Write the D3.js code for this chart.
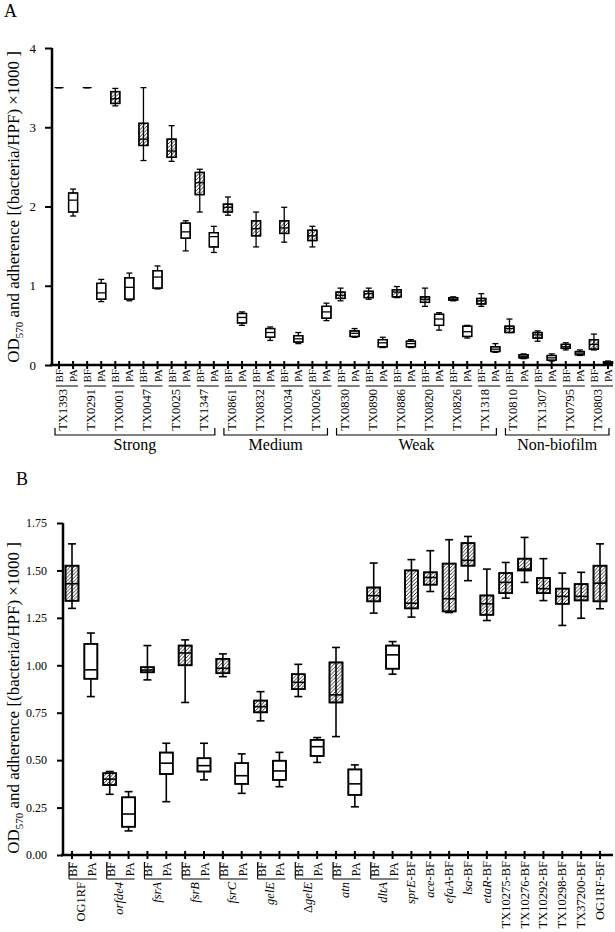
<!DOCTYPE html>
<html lang="en">

<head>
    <meta charset="UTF-8">
    <title>Biofilm and adherence</title>
    <script src="https://cdn.jsdelivr.net/npm/d3@7"></script>
    <style>
        body { margin: 0; background: #fff; }
        text { font-family: "Liberation Serif", "Times New Roman", serif; fill: #000; }
    </style>
</head>

<body>
    <svg></svg>
</body>
<script>
    // ---------- panel A data ----------
    const isolatesA = ['TX1393', 'TX0291', 'TX0001', 'TX0047', 'TX0025', 'TX1347',
        'TX0861', 'TX0832', 'TX0034', 'TX0026',
        'TX0830', 'TX0890', 'TX0886', 'TX0820', 'TX0826', 'TX1318',
        'TX0810', 'TX1307', 'TX0795', 'TX0803'];
    const groupNamesA = ['Strong', 'Medium', 'Weak', 'Non-biofilm'];
    const groupSizesA = [6, 4, 6, 4];
    // [min, q1, median, q3, max]
    const bfA = [
        [3.5, 3.5, 3.5, 3.5, 3.5], [3.5, 3.5, 3.5, 3.5, 3.5], [3.27, 3.30, 3.36, 3.45, 3.49],
        [2.58, 2.77, 2.85, 3.05, 3.5], [2.57, 2.62, 2.70, 2.85, 3.02], [1.93, 2.15, 2.30, 2.43, 2.47],
        [1.89, 1.93, 1.99, 2.03, 2.12], [1.49, 1.63, 1.72, 1.82, 1.93], [1.55, 1.66, 1.73, 1.82, 1.99],
        [1.49, 1.57, 1.63, 1.70, 1.75],
        [0.81, 0.84, 0.88, 0.92, 0.97], [0.83, 0.85, 0.90, 0.93, 0.97], [0.85, 0.86, 0.92, 0.95, 0.99],
        [0.74, 0.79, 0.83, 0.86, 0.97], [0.81, 0.82, 0.83, 0.85, 0.86], [0.74, 0.77, 0.81, 0.84, 0.90],
        [0.41, 0.41, 0.46, 0.49, 0.58], [0.30, 0.34, 0.38, 0.41, 0.43], [0.19, 0.21, 0.23, 0.26, 0.28],
        [0.19, 0.20, 0.26, 0.32, 0.39]
    ];
    const paA = [
        [1.88, 1.93, 2.08, 2.17, 2.22], [0.80, 0.83, 0.91, 1.03, 1.08], [0.81, 0.83, 0.98, 1.10, 1.16],
        [0.96, 0.97, 1.11, 1.19, 1.25], [1.44, 1.60, 1.68, 1.79, 1.82], [1.42, 1.49, 1.62, 1.67, 1.75],
        [0.50, 0.53, 0.60, 0.65, 0.67], [0.31, 0.35, 0.41, 0.46, 0.48], [0.27, 0.29, 0.33, 0.37, 0.41],
        [0.56, 0.59, 0.67, 0.74, 0.78],
        [0.35, 0.36, 0.40, 0.43, 0.46], [0.22, 0.23, 0.28, 0.32, 0.35], [0.22, 0.23, 0.27, 0.30, 0.32],
        [0.44, 0.50, 0.58, 0.64, 0.66], [0.34, 0.36, 0.42, 0.49, 0.50], [0.16, 0.17, 0.20, 0.23, 0.27],
        [0.08, 0.09, 0.11, 0.13, 0.14], [0.05, 0.06, 0.09, 0.12, 0.14], [0.12, 0.13, 0.15, 0.17, 0.19],
        [0.02, 0.02, 0.03, 0.04, 0.05]
    ];
    const ticksA = [0, 1, 2, 3, 4];

    // ---------- panel B data ----------
    // pairs (BF + PA), name parts: [plain prefix, italic part]
    const pairsB = [['OG1RF', ''], ['', 'orfde4'], ['', 'fsrA'], ['', 'fsrB'], ['', 'fsrC'],
        ['', 'gelE'], ['Δ', 'gelE'], ['', 'atn'], ['', 'dltA']];
    // single BF columns: [italic part, plain part]
    const singlesB = [['sprE', '-BF'], ['ace', '-BF'], ['efaA', '-BF'], ['lsa', '-BF'], ['etaR', '-BF'],
        ['', 'TX10275-BF'], ['', 'TX10276-BF'], ['', 'TX10292-BF'], ['', 'TX10298-BF'],
        ['', 'TX37200-BF'], ['', 'OG1RF-BF']];
    // one row per column, left to right: [min, q1, median, q3, max]
    const statsB = [
        [1.30, 1.34, 1.43, 1.525, 1.64], [0.835, 0.929, 0.976, 1.113, 1.17],
        [0.32, 0.369, 0.40, 0.431, 0.44], [0.127, 0.149, 0.216, 0.304, 0.334],
        [0.923, 0.963, 0.975, 0.99, 1.104], [0.281, 0.427, 0.484, 0.54, 0.589],
        [0.804, 1.0, 1.065, 1.104, 1.134], [0.396, 0.44, 0.471, 0.51, 0.589],
        [0.94, 0.958, 0.984, 1.034, 1.06], [0.325, 0.375, 0.418, 0.484, 0.533],
        [0.707, 0.752, 0.782, 0.814, 0.861], [0.36, 0.396, 0.443, 0.497, 0.541],
        [0.835, 0.874, 0.91, 0.953, 1.005], [0.488, 0.522, 0.571, 0.607, 0.619],
        [0.624, 0.804, 0.844, 1.015, 1.094], [0.254, 0.317, 0.375, 0.451, 0.475],
        [1.275, 1.337, 1.367, 1.41, 1.539], [0.953, 0.982, 1.055, 1.104, 1.125],
        [1.254, 1.30, 1.327, 1.50, 1.557], [1.389, 1.425, 1.463, 1.49, 1.604],
        [1.278, 1.284, 1.351, 1.536, 1.662], [1.446, 1.525, 1.553, 1.644, 1.679],
        [1.236, 1.266, 1.324, 1.368, 1.507], [1.354, 1.38, 1.437, 1.486, 1.542],
        [1.437, 1.50, 1.507, 1.562, 1.674], [1.341, 1.38, 1.404, 1.46, 1.562],
        [1.21, 1.324, 1.363, 1.404, 1.486], [1.248, 1.342, 1.363, 1.428, 1.49],
        [1.298, 1.337, 1.433, 1.525, 1.64]
    ];
    // which columns are hatched (biofilm)
    const hatchedB = statsB.map((d, i) => i >= 18 || i % 2 === 0);
    const ticksB = [0, 0.25, 0.5, 0.75, 1.0, 1.25, 1.5, 1.75];

    const svg = d3.select('svg')
        .attr('width', 615)
        .attr('height', 932);

    // hatch for biofilm boxes
    svg.append('defs').append('pattern')
        .attr('id', 'hatch')
        .attr('patternUnits', 'userSpaceOnUse')
        .attr('width', 3.6)
        .attr('height', 3.6)
        .append('path')
        .attr('d', 'M-0.9,0.9 L0.9,-0.9 M0,3.6 L3.6,0 M2.7,4.5 L4.5,2.7')
        .attr('stroke', '#000')
        .attr('stroke-width', 0.8);

    // draw one box-plot column
    function drawBoxes(g, data, x, y, w, cap, sw) {
        const box = g.selectAll('g.box')
            .data(data)
            .join('g')
            .attr('class', 'box')
            .attr('transform', d => `translate(${x(d.key)},0)`);
        box.append('line')
            .attr('y1', d => y(d.s[0])).attr('y2', d => y(d.s[4]))
            .attr('stroke', '#000').attr('stroke-width', sw);
        box.append('line')
            .attr('x1', -cap / 2).attr('x2', cap / 2)
            .attr('y1', d => y(d.s[0])).attr('y2', d => y(d.s[0]))
            .attr('stroke', '#000').attr('stroke-width', sw);
        box.append('line')
            .attr('x1', -cap / 2).attr('x2', cap / 2)
            .attr('y1', d => y(d.s[4])).attr('y2', d => y(d.s[4]))
            .attr('stroke', '#000').attr('stroke-width', sw);
        box.append('rect')
            .attr('x', -w / 2).attr('width', w)
            .attr('y', d => y(d.s[3]))
            .attr('height', d => y(d.s[1]) - y(d.s[3]))
            .attr('fill', d => d.hatch ? 'url(#hatch)' : '#fff')
            .attr('stroke', '#000').attr('stroke-width', sw);
        box.append('rect')
            .attr('x', -w / 2).attr('width', w)
            .attr('y', d => y(d.s[3]))
            .attr('height', d => y(d.s[1]) - y(d.s[3]))
            .attr('fill', 'none')
            .attr('stroke', '#000').attr('stroke-width', sw);
        box.append('line')
            .attr('x1', -w / 2).attr('x2', w / 2)
            .attr('y1', d => y(d.s[2])).attr('y2', d => y(d.s[2]))
            .attr('stroke', '#000').attr('stroke-width', sw);
    }

    // rotated y-axis title with subscript
    function yTitle(cx, cy) {
        const t = svg.append('text')
            .attr('transform', `translate(${cx},${cy}) rotate(-90)`)
            .attr('text-anchor', 'middle')
            .attr('font-size', 17);
        t.append('tspan').text('OD');
        t.append('tspan').attr('font-size', 11).attr('dy', 4).text('570');
        t.append('tspan').attr('dy', -4).text(' and adherence [(bacteria/HPF) ×1000 ]');
    }

    // ================= PANEL A =================
    const keysA = isolatesA.flatMap(d => [d + '|BF', d + '|PA']);
    const xA = d3.scalePoint().domain(keysA).range([59, 608]);
    const yA = d3.scaleLinear().domain([0, 4]).range([365, 48]);

    svg.append('text').attr('x', 4).attr('y', 17).attr('font-size', 18).text('A');
    yTitle(19, 207);

    const gA = svg.append('g');
    // y axis
    gA.append('g')
        .attr('transform', 'translate(52,0)')
        .call(d3.axisLeft(yA).tickValues(ticksA).tickSize(7).tickPadding(9).tickFormat(d3.format('d')))
        .call(g => g.select('.domain').attr('stroke-width', 2.5).attr('d', `M0,${yA(4)}V${yA(0)}`))
        .call(g => g.selectAll('.tick line').attr('stroke-width', 2))
        .call(g => g.selectAll('.tick text').attr('font-size', 13).attr('font-family', 'Liberation Serif'));

    drawBoxes(gA, isolatesA.flatMap((d, i) => [
        { key: d + '|BF', s: bfA[i], hatch: true },
        { key: d + '|PA', s: paA[i], hatch: false }
    ]), xA, yA, 9, 6, 1.3);

    // x axis line and ticks
    gA.append('line')
        .attr('x1', 50).attr('x2', 613)
        .attr('y1', yA(0)).attr('y2', yA(0))
        .attr('stroke', '#000').attr('stroke-width', 2.5);
    gA.selectAll('line.xt')
        .data(keysA)
        .join('line')
        .attr('class', 'xt')
        .attr('x1', d => xA(d)).attr('x2', d => xA(d))
        .attr('y1', yA(0) - 4).attr('y2', yA(0) + 4)
        .attr('stroke', '#000').attr('stroke-width', 2);

    // BF / PA labels
    gA.selectAll('text.sub')
        .data(keysA)
        .join('text')
        .attr('class', 'sub')
        .attr('transform', d => `translate(${xA(d) + 4},369) rotate(-90)`)
        .attr('text-anchor', 'end')
        .attr('font-size', 11)
        .text(d => d.split('|')[1]);

    // pair underline and isolate name
    const pairA = gA.selectAll('g.pair')
        .data(isolatesA)
        .join('g')
        .attr('class', 'pair');
    pairA.append('line')
        .attr('x1', d => xA(d + '|BF') - 3).attr('x2', d => xA(d + '|PA') + 5)
        .attr('y1', 386).attr('y2', 386)
        .attr('stroke', '#000').attr('stroke-width', 1);
    pairA.append('text')
        .attr('transform', d => `translate(${xA(d + '|BF') + 8},389) rotate(-90)`)
        .attr('text-anchor', 'end')
        .attr('font-size', 12.5)
        .text(d => d);

    // group brackets
    const starts = d3.cumsum([0, ...groupSizesA.slice(0, -1)]);
    const groupsA = groupNamesA.map((n, i) => ({
        name: n,
        x1: xA(isolatesA[starts[i]] + '|BF') - 4,
        x2: xA(isolatesA[starts[i] + groupSizesA[i] - 1] + '|PA') + 1
    }));
    const grA = gA.selectAll('g.grp')
        .data(groupsA)
        .join('g')
        .attr('class', 'grp');
    grA.append('path')
        .attr('d', d => `M${d.x1},428V435H${d.x2}V428`)
        .attr('fill', 'none')
        .attr('stroke', '#000').attr('stroke-width', 1.2);
    grA.append('text')
        .attr('x', d => (d.x1 + d.x2) / 2)
        .attr('y', 450)
        .attr('text-anchor', 'middle')
        .attr('font-size', 16)
        .text(d => d.name);

    // ================= PANEL B =================
    const keysB = pairsB.flatMap((d, i) => ['p' + i + '|BF', 'p' + i + '|PA'])
        .concat(singlesB.map((d, i) => 's' + i));
    const xB = d3.scalePoint().domain(keysB).range([72, 600]);
    const yB = d3.scaleLinear().domain([0, 1.75]).range([855, 523]);

    svg.append('text').attr('x', 16).attr('y', 485).attr('font-size', 18).text('B');
    yTitle(19, 698);

    const gB = svg.append('g');
    gB.append('g')
        .attr('transform', 'translate(63,0)')
        .call(d3.axisLeft(yB).tickValues(ticksB).tickSize(6).tickPadding(10).tickFormat(d3.format('.2f')))
        .call(g => g.select('.domain').attr('stroke-width', 2.5).attr('d', `M0,${yB(1.75)}V${yB(0)}`))
        .call(g => g.selectAll('.tick line').attr('stroke-width', 2))
        .call(g => g.selectAll('.tick text').attr('font-size', 12).attr('font-family', 'Liberation Serif'));

    drawBoxes(gB, keysB.map((k, i) => ({ key: k, s: statsB[i], hatch: hatchedB[i] })),
        xB, yB, 13, 8, 1.6);

    gB.append('line')
        .attr('x1', 61).attr('x2', 613)
        .attr('y1', yB(0)).attr('y2', yB(0))
        .attr('stroke', '#000').attr('stroke-width', 2.5);
    gB.selectAll('line.xt')
        .data(keysB)
        .join('line')
        .attr('class', 'xt')
        .attr('x1', d => xB(d)).attr('x2', d => xB(d))
        .attr('y1', yB(0) - 4).attr('y2', yB(0) + 4)
        .attr('stroke', '#000').attr('stroke-width', 2);

    // BF / PA labels of the pairs
    const pairKeys = keysB.filter(k => k.startsWith('p'));
    gB.selectAll('text.sub')
        .data(pairKeys)
        .join('text')
        .attr('class', 'sub')
        .attr('transform', d => `translate(${xB(d) + 5},862) rotate(-90)`)
        .attr('text-anchor', 'end')
        .attr('font-size', 12)
        .text(d => d.split('|')[1]);

    const pairB = gB.selectAll('g.pair')
        .data(pairsB)
        .join('g')
        .attr('class', 'pair');
    pairB.append('path')
        .attr('d', (d, i) => `M${xB('p' + i + '|BF') - 3},862V879H${xB('p' + i + '|PA') + 6}`)
        .attr('fill', 'none')
        .attr('stroke', '#000').attr('stroke-width', 1);
    const pairLabel = pairB.append('text')
        .attr('transform', (d, i) => `translate(${(xB('p' + i + '|BF') + xB('p' + i + '|PA')) / 2 + 4},882) rotate(-90)`)
        .attr('text-anchor', 'end')
        .attr('font-size', 12.5);
    pairLabel.append('tspan').text(d => d[0]);
    pairLabel.append('tspan').attr('font-style', 'italic').text(d => d[1]);

    const singleLabel = gB.selectAll('text.single')
        .data(singlesB)
        .join('text')
        .attr('class', 'single')
        .attr('transform', (d, i) => `translate(${xB('s' + i) + 4},861) rotate(-90)`)
        .attr('text-anchor', 'end')
        .attr('font-size', 12.5);
    singleLabel.append('tspan').attr('font-style', 'italic').text(d => d[0]);
    singleLabel.append('tspan').text(d => d[1]);
</script>

</html>
